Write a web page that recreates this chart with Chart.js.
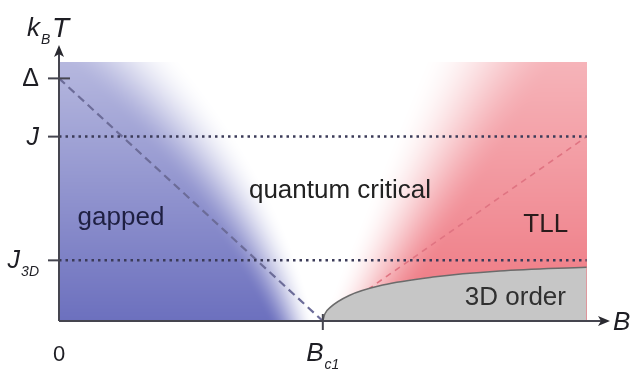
<!DOCTYPE html>
<html>
<head>
<meta charset="utf-8">
<script src="https://cdn.jsdelivr.net/npm/chart.js@4"></script>
<style>
  html, body { margin: 0; padding: 0; background: #ffffff; }
  #wrap { width: 633px; height: 371px; }
</style>
</head>
<body>
<div id="wrap"><canvas id="phaseChart" width="633" height="371"></canvas></div>
<script>
// field B (units of Bc1) and temperature kBT (units of the gap)
const yTickValues = [1, 0.76, 0.25];
const yTickMain = ["Δ", "J", "J"];
const yTickSub = ["", "", "3D"];
const xTickValues = [0, 1];
const xTickMain = ["0", "B"];
const xTickSub = ["", "c1"];

// crossover lines
const gapLineB = [0, 1];
const gapLineT = [1, 0];
const tllLineB = [1, 2];
const tllLineT = [0, 0.76];

// 3D order boundary
const orderB = [1, 1.008, 1.027, 1.1, 1.227, 1.417, 1.67, 2.0];
const orderT = [0, 0.03, 0.055, 0.105, 0.148, 0.181, 0.206, 0.222];

// region names
const regionNames = ["gapped", "quantum critical", "TLL", "3D order"];
const regionB = [0.235, 1.065, 1.845, 1.73];
const regionT = [0.395, 0.506, 0.366, 0.066];
const regionColors = ["#1f2042", "#222222", "#2a1c1c", "#303030"];

const shadeRight = 2;
const shadeTop = 1.066;

const toPoints = (xs, ys) => xs.map((v, i) => ({ x: v, y: ys[i] }));

function smooth(a, b, v) {
  const t = Math.min(1, Math.max(0, (v - a) / (b - a)));
  return t * t * (3 - 2 * t);
}

// Background colouring of the gapped / TLL sides
const shadePlugin = {
  id: "shade",
  beforeDatasetsDraw(chart) {
    const { ctx, scales: { x, y } } = chart;
    const x0 = Math.round(x.getPixelForValue(0));
    const x1 = Math.round(x.getPixelForValue(shadeRight));
    const y0 = Math.round(y.getPixelForValue(shadeTop));
    const y1 = Math.round(y.getPixelForValue(0));
    const w = x1 - x0, h = y1 - y0;
    const off = document.createElement("canvas");
    off.width = w;
    off.height = h;
    const octx = off.getContext("2d");
    const img = octx.createImageData(w, h);
    const blue = [108, 112, 190];
    const red = [238, 118, 128];
    for (let j = 0; j < h; j++) {
      const T = y.getValueForPixel(y0 + j + 0.5);
      const fadeB = 1 - 0.5 * T / shadeTop;
      const fadeR = 1 - 0.45 * T / shadeTop;
      const edgeB = 0.97 - 0.2 * T - 0.25 * T * T;
      const widthB = 0.18 + 0.25 * T;
      const edgeR = 0.99 + 0.36 * T;
      const widthR = 0.3 + 0.2 * T;
      for (let i = 0; i < w; i++) {
        const B = x.getValueForPixel(x0 + i + 0.5);
        const sb = smooth(0, widthB, edgeB - B) * fadeB;
        const sr = smooth(0, widthR, B - edgeR) * fadeR;
        let c;
        if (sb >= sr) c = blue.map(v => 255 + (v - 255) * sb);
        else c = red.map(v => 255 + (v - 255) * sr);
        const k = (j * w + i) * 4;
        img.data[k] = c[0];
        img.data[k + 1] = c[1];
        img.data[k + 2] = c[2];
        img.data[k + 3] = 255;
      }
    }
    octx.putImageData(img, 0, 0);
    ctx.drawImage(off, x0, y0);
  }
};

function arrow(ctx, tx, ty, dir) {
  ctx.beginPath();
  if (dir === "up") {
    ctx.moveTo(tx, ty);
    ctx.lineTo(tx - 5, ty + 12);
    ctx.lineTo(tx, ty + 9);
    ctx.lineTo(tx + 5, ty + 12);
  } else {
    ctx.moveTo(tx, ty);
    ctx.lineTo(tx - 12, ty - 5);
    ctx.lineTo(tx - 9, ty);
    ctx.lineTo(tx - 12, ty + 5);
  }
  ctx.closePath();
  ctx.fill();
}

function labelWithSub(ctx, main, sub, px, py, size, italic, align) {
  const f = (italic ? "italic " : "") + size + "px 'Liberation Sans', Arial, sans-serif";
  const fs = "italic " + Math.round(size * 0.55) + "px 'Liberation Sans', Arial, sans-serif";
  ctx.font = f;
  const mw = ctx.measureText(main).width;
  ctx.font = fs;
  const sw = sub ? ctx.measureText(sub).width + 1 : 0;
  let left = px;
  if (align === "right") left = px - mw - sw;
  if (align === "center") left = px - (mw + sw) / 2;
  ctx.textAlign = "left";
  ctx.textBaseline = "alphabetic";
  ctx.font = f;
  ctx.fillText(main, left, py);
  if (sub) {
    ctx.font = fs;
    ctx.fillText(sub, left + mw + 1, py + size * 0.3);
  }
}

// Axes with arrows, ticks and labels, placed through the scales
const axesPlugin = {
  id: "axes",
  afterDatasetsDraw(chart) {
    const { ctx, scales: { x, y } } = chart;
    const ox = x.getPixelForValue(0);
    const oy = y.getPixelForValue(0);
    const topY = chart.chartArea.top + 3;
    const rightX = chart.chartArea.right - 3;
    ctx.save();
    ctx.strokeStyle = "#45454f";
    ctx.fillStyle = "#2a2a30";
    ctx.lineWidth = 2;
    ctx.beginPath();
    ctx.moveTo(ox, oy);
    ctx.lineTo(ox, topY + 6);
    ctx.moveTo(ox, oy);
    ctx.lineTo(rightX - 6, oy);
    ctx.stroke();
    arrow(ctx, ox, topY, "up");
    arrow(ctx, rightX, oy, "right");

    // y ticks
    ctx.lineWidth = 2;
    yTickValues.forEach((v, i) => {
      const py = y.getPixelForValue(v);
      ctx.beginPath();
      ctx.moveTo(ox - 11, py);
      ctx.lineTo(i === 0 ? ox + 11 : ox, py);
      ctx.stroke();
      ctx.fillStyle = "#1e1e24";
      labelWithSub(ctx, yTickMain[i], yTickSub[i], ox - 20, py + 8,
        25, yTickMain[i] !== "Δ", "right");
    });

    // x ticks
    xTickValues.forEach((v, i) => {
      const px = x.getPixelForValue(v);
      if (v !== 0) {
        ctx.beginPath();
        ctx.moveTo(px, oy - 7);
        ctx.lineTo(px, oy + 9);
        ctx.stroke();
      }
      ctx.fillStyle = "#1e1e24";
      labelWithSub(ctx, xTickMain[i], xTickSub[i], px, oy + 40,
        v === 0 ? 22 : 26, v !== 0, "center");
    });

    // axis titles
    ctx.fillStyle = "#1e1e24";
    labelWithSub(ctx, "k", "B", 27, 36, 26, true, "left");
    ctx.font = "italic 28px 'Liberation Sans', Arial, sans-serif";
    ctx.fillText("T", 52, 37);
    ctx.font = "italic 26px 'Liberation Sans', Arial, sans-serif";
    ctx.fillText("B", rightX + 3, oy + 9);

    // region names
    ctx.font = "26px 'Liberation Sans', Arial, sans-serif";
    ctx.textAlign = "center";
    regionNames.forEach((name, i) => {
      ctx.fillStyle = regionColors[i];
      ctx.fillText(name, x.getPixelForValue(regionB[i]), y.getPixelForValue(regionT[i]));
    });
    ctx.restore();
  }
};

const ctx = document.getElementById("phaseChart").getContext("2d");
new Chart(ctx, {
  type: "scatter",
  data: {
    datasets: [
      {
        label: "J",
        data: toPoints([0, shadeRight], [yTickValues[1], yTickValues[1]]),
        showLine: true,
        borderColor: "#3b3b58",
        borderWidth: 2.5,
        borderDash: [2.5, 4],
        pointRadius: 0,
        order: 0
      },
      {
        label: "J3D",
        data: toPoints([0, shadeRight], [yTickValues[2], yTickValues[2]]),
        showLine: true,
        borderColor: "#3b3b58",
        borderWidth: 2.5,
        borderDash: [2.5, 4],
        pointRadius: 0,
        order: 0
      },
      {
        label: "3D order",
        data: toPoints(orderB, orderT),
        showLine: true,
        fill: "origin",
        backgroundColor: "#c6c6c6",
        borderColor: "#6b6b6b",
        borderWidth: 1.5,
        cubicInterpolationMode: "monotone",
        pointRadius: 0,
        order: 1
      },
      {
        label: "gap",
        data: toPoints(gapLineB, gapLineT),
        showLine: true,
        borderColor: "#6c6c98",
        borderWidth: 2.2,
        borderDash: [8, 5],
        pointRadius: 0,
        order: 2
      },
      {
        label: "TLL crossover",
        data: toPoints(tllLineB, tllLineT),
        showLine: true,
        borderColor: "#e07482",
        borderWidth: 1.6,
        borderDash: [6, 5],
        pointRadius: 0,
        order: 3
      }
    ]
  },
  options: {
    responsive: false,
    animation: false,
    layout: { padding: { left: 59, right: 20, top: 42, bottom: 50 } },
    plugins: { legend: { display: false }, tooltip: { enabled: false } },
    scales: {
      x: { type: "linear", min: 0, max: 2.1, display: false },
      y: { type: "linear", min: 0, max: 1.15, display: false }
    }
  },
  plugins: [shadePlugin, axesPlugin]
});
</script>
</body>
</html>
